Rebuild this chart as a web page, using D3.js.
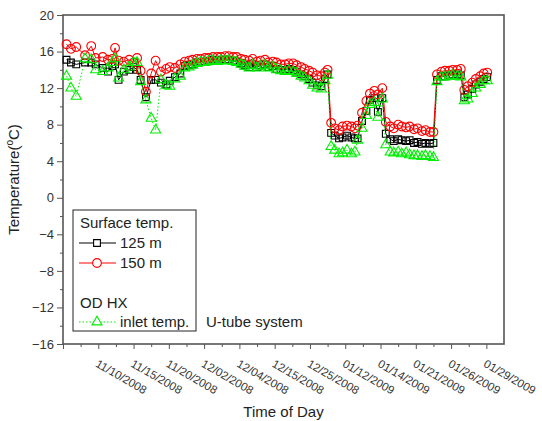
<!DOCTYPE html>
<html>
<head>
<meta charset="utf-8">
<script src="https://cdn.jsdelivr.net/npm/d3@7"></script>
<style>
  body { margin: 0; background: #fff; }
  text { font-family: "Liberation Sans", Arial, sans-serif; }
</style>
</head>
<body>
<div id="chart"></div>
<script>
// sample number along the record
let sampleIdx = [
  2, 4.5, 7.5, 12.5, 16, 18.5, 22.5, 25.5, 28, 29.5, 31.5, 34.5, 37.5, 40, 42, 44, 47, 50, 52.5, 55.5, 58.5, 60.5, 63.5, 66.5,
  69, 71.5, 73.5, 76, 78, 80.5, 82.5, 85, 87.5, 89.5, 92, 94, 96.5, 98.5, 101, 103, 105.5, 107.5, 110, 112, 114.5, 116.5, 119, 121, 123.5,
  126, 128, 130.5, 132.5, 135, 137, 139.5, 141.5, 144, 146.5, 148.5, 150,
  152, 154, 156.5, 158.5, 161, 163.5, 165.5, 167,
  169.5, 172, 174, 176.5, 178.5, 181,
  183, 185.5, 187.5, 190, 192, 194.5, 196.5, 199, 201, 203.5, 205.5, 208, 210,
  212, 214.5, 216.5, 219, 221, 223.5, 225.5,
  227.5, 229.5, 232, 234, 236.5, 238.5, 240.5
];

// surface temp. 125 m
let t125 = [
  15.1, 14.8, 14.6, 14.8, 14.8, 14.6, 14.2, 13.8, 14.4, 14.6, 12.9, 13.8, 14.0, 14.3, 14.0, 12.9, 11.0, 12.9, 12.9, 12.6, 12.4, 12.8, 13.2, 13.6,
  14.4, 14.5, 14.6, 14.8, 14.9, 14.9, 15.0, 15.1, 15.0, 15.1, 15.1, 15.1, 15.0, 14.9, 14.7, 14.5, 14.3, 14.6, 14.3, 14.5, 14.6, 14.3, 14.4, 14.1, 14.0,
  14.0, 14.1, 14.0, 13.8, 13.5, 13.3, 13.0, 12.6, 12.3, 12.2, 13.0, 13.5,
  7.1, 6.8, 6.5, 6.6, 6.8, 6.6, 6.5, 6.5,
  8.4, 9.5, 10.7, 10.9, 9.4, 10.9,
  7.0, 6.4, 6.2, 6.4, 6.3, 6.2, 6.3, 6.0, 6.1, 5.9, 6.0, 5.9, 6.0,
  12.9, 13.3, 13.3, 13.4, 13.5, 13.5, 13.4,
  11.0, 11.3, 11.9, 12.4, 12.7, 13.0, 13.2
];

// surface temp. 150 m
let t150 = [
  16.8, 16.3, 16.5, 15.6, 16.6, 15.3, 15.4, 15.1, 15.2, 16.4, 15.0, 14.9, 15.1, 14.8, 15.3, 13.9, 11.6, 13.6, 15.0, 13.8, 14.1, 14.3, 14.2, 14.6,
  14.9, 15.0, 15.1, 15.2, 15.2, 15.3, 15.3, 15.4, 15.4, 15.4, 15.5, 15.5, 15.4, 15.4, 15.2, 15.1, 15.0, 15.2, 14.9, 15.0, 15.1, 14.8, 14.9, 14.8, 14.6,
  14.6, 14.7, 14.7, 14.5, 14.3, 14.1, 13.9, 13.7, 13.4, 13.3, 13.7, 14.0,
  8.2, 7.6, 7.4, 7.8, 7.9, 7.8, 7.6, 7.9,
  9.3, 10.6, 11.4, 11.7, 11.3, 12.0,
  8.3, 7.8, 7.6, 8.0, 7.8, 7.7, 7.8, 7.5, 7.6, 7.3, 7.4, 7.2, 7.2,
  13.5, 13.8, 13.9, 13.9, 14.0, 14.0, 14.1,
  11.8, 12.2, 12.6, 13.0, 13.3, 13.6, 13.7
];

// OD HX inlet temp.
let tInlet = [
  13.3, 12.0, 11.1, 15.2, 15.1, 14.0, 13.8, 14.2, 14.8, 15.2, 13.1, 14.0, 14.3, 14.8, 14.8, 12.7, 10.7, 8.7, 7.4, 12.9, 12.3, 12.2, 13.0, 13.3,
  14.2, 14.3, 14.5, 14.7, 14.8, 14.8, 14.9, 15.0, 14.9, 15.0, 15.0, 15.0, 14.9, 14.8, 14.6, 14.4, 14.2, 14.5, 14.2, 14.4, 14.5, 14.2, 14.3, 14.0, 13.9,
  13.8, 13.9, 13.8, 13.6, 13.3, 13.1, 12.8, 12.3, 12.0, 11.9, 12.8, 13.4,
  5.6, 5.2, 4.8, 4.9, 5.2, 4.8, 5.0, 6.3,
  7.6, 9.0, 10.2, 10.4, 8.8, 10.8,
  5.8, 5.0, 4.9, 5.0, 4.8, 4.9, 4.7, 4.6, 4.6, 4.5, 4.6, 4.5, 4.4,
  12.7, 13.2, 13.2, 13.3, 13.4, 13.3, 13.2,
  10.6, 10.8, 11.4, 12.0, 12.4, 12.8, 12.8
];

let dateLabels = ["11/10/2008", "11/15/2008", "11/20/2008", "12/02/2008", "12/04/2008", "12/15/2008",
  "12/25/2008", "01/12/2009", "01/14/2009", "01/21/2009", "01/26/2009", "01/29/2009"];
let dateTicks = [20, 40, 60, 80, 100, 120, 140, 160, 180, 200, 220, 240];
let yTicks = [-16, -12, -8, -4, 0, 4, 8, 12, 16, 20];

let width = 542, height = 421;
let margin = { top: 15, right: 38, bottom: 77, left: 63 };
let w = width - margin.left - margin.right;
let h = height - margin.top - margin.bottom;

let svg = d3.select("#chart").append("svg")
  .attr("width", width)
  .attr("height", height);

let g = svg.append("g")
  .attr("transform", `translate(${margin.left},${margin.top})`);

let x = d3.scaleLinear().domain([0, 250]).range([0, w]);
let y = d3.scaleLinear().domain([-16, 20]).range([h, 0]);

let axisColor = "#555";

// minor ticks
g.append("g")
  .attr("transform", `translate(0,${h})`)
  .call(d3.axisBottom(x).tickValues(d3.range(10, 250, 20)).tickSize(3).tickFormat(""))
  .call(s => s.select(".domain").remove())
  .selectAll("line").attr("stroke", axisColor);
g.append("g")
  .call(d3.axisLeft(y).tickValues(d3.range(-14, 20, 4)).tickSize(3).tickFormat(""))
  .call(s => s.select(".domain").remove())
  .selectAll("line").attr("stroke", axisColor);

// major x axis
let xAxis = g.append("g")
  .attr("transform", `translate(0,${h})`)
  .call(d3.axisBottom(x).tickValues(d3.range(0, 241, 20)).tickSize(5)
    .tickFormat(d => { let i = dateTicks.indexOf(d); return i < 0 ? "" : dateLabels[i]; }));
xAxis.select(".domain").remove();
xAxis.selectAll("line").attr("stroke", axisColor);
xAxis.selectAll("text")
  .attr("font-size", "11.5px")
  .attr("fill", "#333")
  .attr("text-anchor", "start")
  .attr("y", 0).attr("dy", 0)
  .attr("transform", "translate(-4,22) rotate(30)");

// major y axis
let yAxis = g.append("g")
  .call(d3.axisLeft(y).tickValues(yTicks).tickSize(6).tickPadding(3));
yAxis.select(".domain").remove();
yAxis.selectAll("line").attr("stroke", axisColor);
yAxis.selectAll("text").attr("font-size", "13px").attr("fill", "#333");

// frame
g.append("rect")
  .attr("width", w).attr("height", h)
  .attr("fill", "none")
  .attr("stroke", axisColor)
  .attr("stroke-width", 1.6);

let series = sampleIdx.map((d, i) => ({ x: d, a: t125[i], b: t150[i], c: tInlet[i] }));

function addLine(key, color, dash) {
  g.append("path")
    .datum(series)
    .attr("fill", "none")
    .attr("stroke", color)
    .attr("stroke-width", 1)
    .attr("stroke-dasharray", dash)
    .attr("d", d3.line().x(d => x(d.x)).y(d => y(d[key])));
}

let sym = {
  a: d3.symbol().type(d3.symbolSquare).size(46),
  b: d3.symbol().type(d3.symbolCircle).size(60),
  c: d3.symbol().type(d3.symbolTriangle).size(44)
};

function addMarks(key, color) {
  g.append("g").selectAll("path")
    .data(series)
    .enter()
    .append("path")
    .attr("transform", d => `translate(${x(d.x)},${y(d[key])})`)
    .attr("d", sym[key])
    .attr("fill", "none")
    .attr("stroke", color)
    .attr("stroke-width", 1.1);
}

addLine("a", "#000", null);
addMarks("a", "#000");
addLine("b", "#ff0000", null);
addMarks("b", "#ff0000");
addLine("c", "#00ee00", "1.5,2");
addMarks("c", "#00ee00");

// axis titles
svg.append("text")
  .attr("x", margin.left + w / 2)
  .attr("y", 417)
  .attr("text-anchor", "middle")
  .attr("font-size", "15px")
  .attr("fill", "#222")
  .text("Time of Day");

let yt = svg.append("text")
  .attr("transform", `translate(19,${margin.top + h / 2}) rotate(-90)`)
  .attr("text-anchor", "middle")
  .attr("font-size", "15px")
  .attr("fill", "#222");
yt.append("tspan").text("Temperature(");
yt.append("tspan").attr("font-size", "10px").attr("dy", "-6").text("o");
yt.append("tspan").attr("dy", "6").text("C)");

// legend
let lg = svg.append("g");
lg.append("rect")
  .attr("x", 73).attr("y", 210)
  .attr("width", 123).attr("height", 121)
  .attr("fill", "#fff")
  .attr("stroke", "#222")
  .attr("stroke-width", 1);

let legendText = (tx, ty, s) => lg.append("text")
  .attr("x", tx).attr("y", ty)
  .attr("font-size", "15px")
  .attr("fill", "#222")
  .text(s);

legendText(80, 228, "Surface temp.");
legendText(80, 308, "OD HX");

let legendRows = [
  { key: "a", color: "#000", dash: null, cy: 243, label: "125 m" },
  { key: "b", color: "#ff0000", dash: null, cy: 263, label: "150 m" },
  { key: "c", color: "#00ee00", dash: "1.5,2", cy: 322, label: "inlet temp." }
];
legendRows.forEach(r => {
  lg.append("line")
    .attr("x1", 79).attr("x2", 116)
    .attr("y1", r.cy).attr("y2", r.cy)
    .attr("stroke", r.color)
    .attr("stroke-dasharray", r.dash);
  lg.append("path")
    .attr("transform", `translate(97,${r.cy})`)
    .attr("d", sym[r.key])
    .attr("fill", "#fff")
    .attr("stroke", r.color)
    .attr("stroke-width", 1.1);
  legendText(120, r.cy + 5, r.label);
});

svg.append("text")
  .attr("x", 206).attr("y", 327)
  .attr("font-size", "15px")
  .attr("fill", "#222")
  .text("U-tube system");
</script>
</body>
</html>
